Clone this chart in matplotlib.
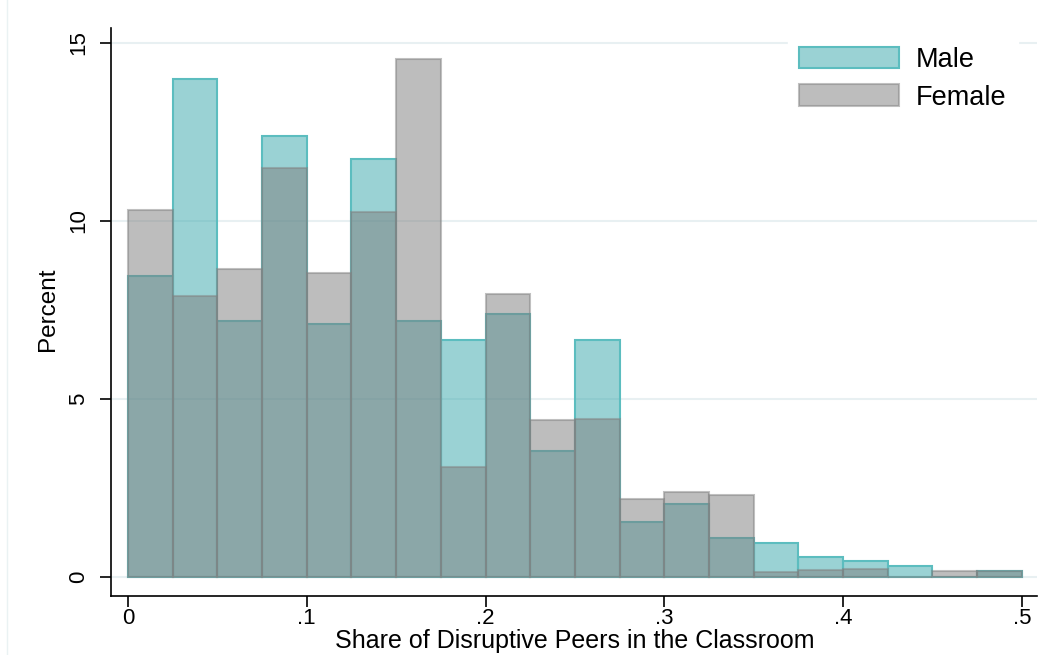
import numpy as np
import matplotlib
matplotlib.use("Agg")
import matplotlib.pyplot as plt
from matplotlib.patches import Rectangle

plt.rcParams['font.family'] = ['Liberation Sans', 'DejaVu Sans']

# histogram bins: share of disruptive peers, width .025
bin_edges = np.linspace(0, 0.5, 21)
male_pct = [8.45, 14.0, 7.2, 12.4, 7.1, 11.75, 7.2, 6.65, 7.4, 3.55,
            6.65, 1.55, 2.04, 1.09, 0.95, 0.57, 0.46, 0.32, 0.0, 0.18]
female_pct = [10.3, 7.9, 8.65, 11.5, 8.55, 10.25, 14.55, 3.1, 7.95, 4.4,
              4.45, 2.2, 2.4, 2.3, 0.14, 0.21, 0.23, 0.0, 0.18, 0.18]
xticks = [0, 0.1, 0.2, 0.3, 0.4, 0.5]
xtick_labels = ["0", ".1", ".2", ".3", ".4", ".5"]
yticks = [0, 5, 10, 15]

W, H = 1039, 655
fig = plt.figure(figsize=(W/100, H/100), dpi=100)
ax = fig.add_axes([111/W, 1 - 596/H, (1037 - 111)/W, (596 - 28)/H])

# faint outer frame like the Stata graph region
fig.patches.append(Rectangle((7/W, -0.01), 1.0, 1.02, transform=fig.transFigure,
                             fill=False, edgecolor='#eaf2f3', lw=1))

widths = np.diff(bin_edges)
ax.bar(bin_edges[:-1], male_pct, width=widths, align='edge',
       facecolor=(0.216, 0.655, 0.671, 0.5), edgecolor=(0.36, 0.74, 0.75, 1.0),
       linewidth=1.5, label='Male', zorder=2)
ax.bar(bin_edges[:-1], female_pct, width=widths, align='edge',
       facecolor=(0.49, 0.49, 0.49, 0.5), edgecolor=(0.51, 0.51, 0.51, 0.5),
       linewidth=1.5, label='Female', zorder=3)

ax.set_xlim(-0.0095, 0.5085)
ax.set_ylim(-0.53, 15.42)
ax.set_xticks(xticks)
ax.set_xticklabels(xtick_labels)
ax.set_yticks(yticks)
ax.set_yticklabels([str(v) for v in yticks], rotation=90, va='center')
ax.tick_params(direction='out', length=8, width=1.2, labelsize=16)
ax.tick_params(axis='x', pad=1)
ax.tick_params(axis='y', pad=8)
ax.yaxis.grid(True, color='#e8f0f2', lw=1.5, zorder=0)
ax.set_axisbelow(True)

for s in ['top', 'right']:
    ax.spines[s].set_visible(False)
for s in ['left', 'bottom']:
    ax.spines[s].set_linewidth(1.2)

ax.set_xlabel('Share of Disruptive Peers in the Classroom', fontsize=18)
ax.xaxis.set_label_coords(0.501, -0.058)
ax.set_ylabel('Percent', fontsize=17.5)
ax.yaxis.set_label_coords(-0.056, 0.505)

fs = 19.5
leg = fig.legend(*ax.get_legend_handles_labels(), loc='upper left',
                 bbox_to_anchor=(788/W, 1 - 36/H), bbox_transform=fig.transFigure,
                 frameon=True, fancybox=False, edgecolor='white', framealpha=1,
                 fontsize=fs, handlelength=3.7, handleheight=0.85, handletextpad=0.63,
                 labelspacing=0.42, borderpad=0.4, borderaxespad=0)

fig.savefig('out.png', dpi=100)
